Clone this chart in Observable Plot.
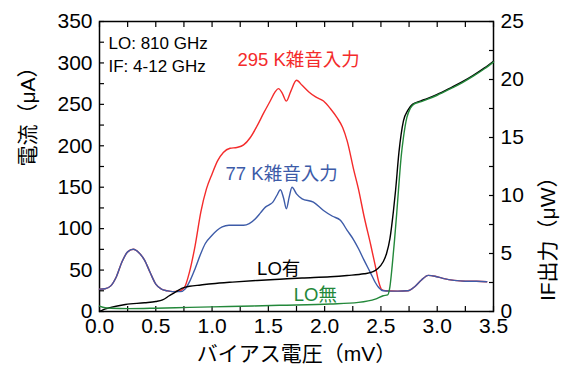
<!DOCTYPE html>
<html><head><meta charset="utf-8">
<script src="https://cdn.jsdelivr.net/npm/d3@7"></script>
<script src="https://cdn.jsdelivr.net/npm/@observablehq/plot@0.6"></script>
<style>body{margin:0;background:#fff}</style>
</head><body><div id="chart"></div>
<script>
// I-V curves (µA)
const ivBias = [0,0.03,0.10,0.23,0.40,0.50,0.56,0.62,0.68,0.73,0.80,0.90,1.00,1.18,1.40,1.60,1.80,2.05,2.20,2.35,2.43,2.47,2.52,2.55,2.58,2.61,2.63,2.66,2.70,2.74,2.78,2.85,2.91,3.00,3.12,3.22,3.32,3.42,3.50];
const ivLO = [0,2,5,8.5,10.5,12,14,19,24,28,30.5,32,33.5,35.5,37.5,39,40.5,42,43.5,45.5,48,51.5,60,70,88,120,146,192,230,243,250,254,257,262,270,277,285,294,302];
const ivNoLOBias = [0,0.05,0.10,0.26,0.50,0.80,1.15,1.60,2.05,2.30,2.45,2.52,2.56,2.58,2.60,2.62,2.64,2.66,2.68,2.70,2.73,2.76,2.79,2.85,2.91,3.00,3.12,3.22,3.32,3.42,3.50];
const ivNoLO = [6.5,4.5,4,3.5,4,5,6,7.5,9,11,15,19,20,30,55,85,118,154,187,210,234,245,250,253,256,261,269,276,284,293,301];
// IF output power (µW)
const ifBias295 = [0,0.05,0.10,0.15,0.20,0.25,0.30,0.35,0.40,0.45,0.50,0.55,0.60,0.65,0.70,0.75,0.80,0.85,0.90,0.95,1.00,1.05,1.10,1.16,1.22,1.28,1.34,1.40,1.46,1.52,1.56,1.59,1.625,1.66,1.70,1.75,1.80,1.86,1.92,1.99,2.05,2.11,2.16,2.20,2.26,2.30,2.35,2.41,2.45,2.48,2.51,2.54,2.65,2.74,2.80,2.86,2.92,2.98,3.05,3.15,3.25,3.35,3.44];
const if295 = [1.93,1.96,2.21,3.00,4.29,5.14,5.36,5.07,4.43,3.36,2.36,1.93,1.79,1.71,1.75,2.0,3.43,5.71,8.57,10.57,11.86,13.0,13.71,14.07,14.14,14.36,15.0,16.0,17.14,18.21,18.93,19.21,18.79,18.14,19.0,19.93,19.5,18.93,18.5,18.14,17.5,16.71,15.86,14.71,12.14,10.57,8.21,5.71,3.93,2.57,1.86,1.79,1.76,1.79,2.14,2.71,3.11,3.04,2.86,2.68,2.61,2.61,2.57];
const ifBias77 = [0,0.05,0.10,0.15,0.20,0.25,0.30,0.35,0.40,0.45,0.50,0.55,0.60,0.65,0.72,0.76,0.80,0.85,0.90,0.94,1.00,1.045,1.09,1.15,1.22,1.28,1.33,1.385,1.43,1.474,1.51,1.54,1.575,1.607,1.635,1.66,1.685,1.71,1.75,1.80,1.90,1.99,2.07,2.14,2.20,2.26,2.30,2.35,2.41,2.45,2.48,2.52,2.58,2.65,2.74,2.80,2.86,2.92,2.98,3.05,3.15,3.25,3.35,3.44];
const if77 = [1.93,1.96,2.21,3.00,4.29,5.14,5.36,5.07,4.43,3.36,2.36,1.93,1.79,1.71,1.71,1.93,2.57,3.71,5.0,5.86,6.57,7.0,7.29,7.43,7.43,7.43,7.57,8.0,8.5,9.0,9.21,9.43,10.0,10.5,9.79,8.86,9.86,10.71,10.14,9.71,9.43,8.71,8.21,7.86,7.0,6.14,5.43,4.43,3.29,2.5,2.07,1.79,1.76,1.76,1.79,2.14,2.71,3.11,3.04,2.86,2.68,2.61,2.61,2.57];
// ticks
const xTicks = [0,0.5,1.0,1.5,2.0,2.5,3.0,3.5];
const xMinor = d3.range(0, 3.5001, 0.25);
const leftTicks = [0,50,100,150,200,250,300,350];
const leftMinor = d3.range(0, 350.1, 25);
const rightTicks = [0,5,10,15,20,25];
const rightMinor = d3.range(0, 25.01, 2.5);
const uaPerUw = 350 / 25; // right axis 0–25 µW spans left axis 0–350 µA
const labels = {
  x: "バイアス電圧（mV）",
  yLeft: "電流（μA）",
  yRight: "IF出力（μW）",
  lo: "LO: 810 GHz",
  ifBand: "IF: 4-12 GHz",
  hot: "295 K雑音入力",
  cold: "77 K雑音入力",
  withLO: "LO有",
  noLO: "LO無"
};

const toRows = (xs, ys) => xs.map((x, i) => ({x, y: ys[i]}));
const rLO = toRows(ivBias, ivLO);
const rNoLO = toRows(ivNoLOBias, ivNoLO);
const r295 = toRows(ifBias295, if295);
const r77 = toRows(ifBias77, if77);

const RED = "#f42b2b", BLUE = "#3d5ba8", GREEN = "#23883a";
const fnt = 21;

const plot = Plot.plot({
  width: 565, height: 372,
  marginLeft: 99, marginRight: 72, marginTop: 21, marginBottom: 61,
  style: {fontFamily: "'Liberation Sans', Arial, 'Noto Sans CJK JP', sans-serif", background: "#fff", color: "#000"},
  x: {domain: [0, 3.5], label: null},
  y: {domain: [0, 350], label: null},
  marks: [
    Plot.axisX(xMinor, {anchor: "bottom", tickSize: -5, tickFormat: () => "", strokeWidth: 1.2, label: null}),
    Plot.axisX(xMinor, {anchor: "top", tickSize: -5, tickFormat: () => "", strokeWidth: 1.2, label: null}),
    Plot.axisX(xTicks, {anchor: "bottom", tickSize: 0, tickPadding: 7, tickFormat: d3.format(".1f"), fontSize: fnt, label: null}),
    Plot.axisY(leftMinor, {anchor: "left", tickSize: -5, tickFormat: () => "", strokeWidth: 1.2, label: null}),
    Plot.axisY(leftTicks, {anchor: "left", tickSize: 0, tickPadding: 7, fontSize: fnt, label: null}),
    Plot.axisY(rightMinor.map(v => v * uaPerUw), {anchor: "right", tickSize: -5, tickFormat: () => "", strokeWidth: 1.2, label: null}),
    Plot.axisY(rightTicks.map(v => v * uaPerUw), {anchor: "right", tickSize: 0, tickPadding: 7, fontSize: fnt, tickFormat: d => String(Math.round(d / uaPerUw)), label: null}),
    Plot.frame({stroke: "#000", strokeWidth: 1.5}),
    Plot.line(r295, {x: "x", y: d => d.y * uaPerUw, stroke: RED, strokeWidth: 1.4, curve: "monotone-x"}),
    Plot.line(r77, {x: "x", y: d => d.y * uaPerUw, stroke: BLUE, strokeWidth: 1.4, curve: "monotone-x"}),
    Plot.line(rLO, {x: "x", y: "y", stroke: "#000", strokeWidth: 1.4, curve: "monotone-x"}),
    Plot.line(rNoLO, {x: "x", y: "y", stroke: GREEN, strokeWidth: 1.4, curve: "monotone-x"}),
    Plot.text([labels.lo], {x: 0.08, y: 323, text: d => d, textAnchor: "start", fontSize: 17, fill: "#000"}),
    Plot.text([labels.ifBand], {x: 0.08, y: 296, text: d => d, textAnchor: "start", fontSize: 17, fill: "#000"}),
    Plot.text([labels.hot], {x: 1.226, y: 303, text: d => d, textAnchor: "start", fontSize: 18.5, fill: RED}),
    Plot.text([labels.cold], {x: 1.12, y: 166, text: d => d, textAnchor: "start", fontSize: 18.5, fill: BLUE}),
    Plot.text([labels.withLO], {x: 1.40, y: 51.5, text: d => d, textAnchor: "start", fontSize: 18.5, fill: "#000"}),
    Plot.text([labels.noLO], {x: 1.726, y: 19.3, text: d => d, textAnchor: "start", fontSize: 18.5, fill: GREEN}),
    Plot.text([labels.x], {frameAnchor: "bottom", dy: 43, lineAnchor: "middle", text: d => d, fontSize: fnt, fill: "#000"}),
    Plot.text([labels.yLeft], {frameAnchor: "left", dx: -71, rotate: -90, lineAnchor: "middle", text: d => d, fontSize: fnt, fill: "#000"}),
    Plot.text([labels.yRight], {frameAnchor: "right", dx: 55, rotate: -90, lineAnchor: "middle", text: d => d, fontSize: fnt, fill: "#000"})
  ]
});
document.getElementById("chart").appendChild(plot);
</script>
</body></html>
